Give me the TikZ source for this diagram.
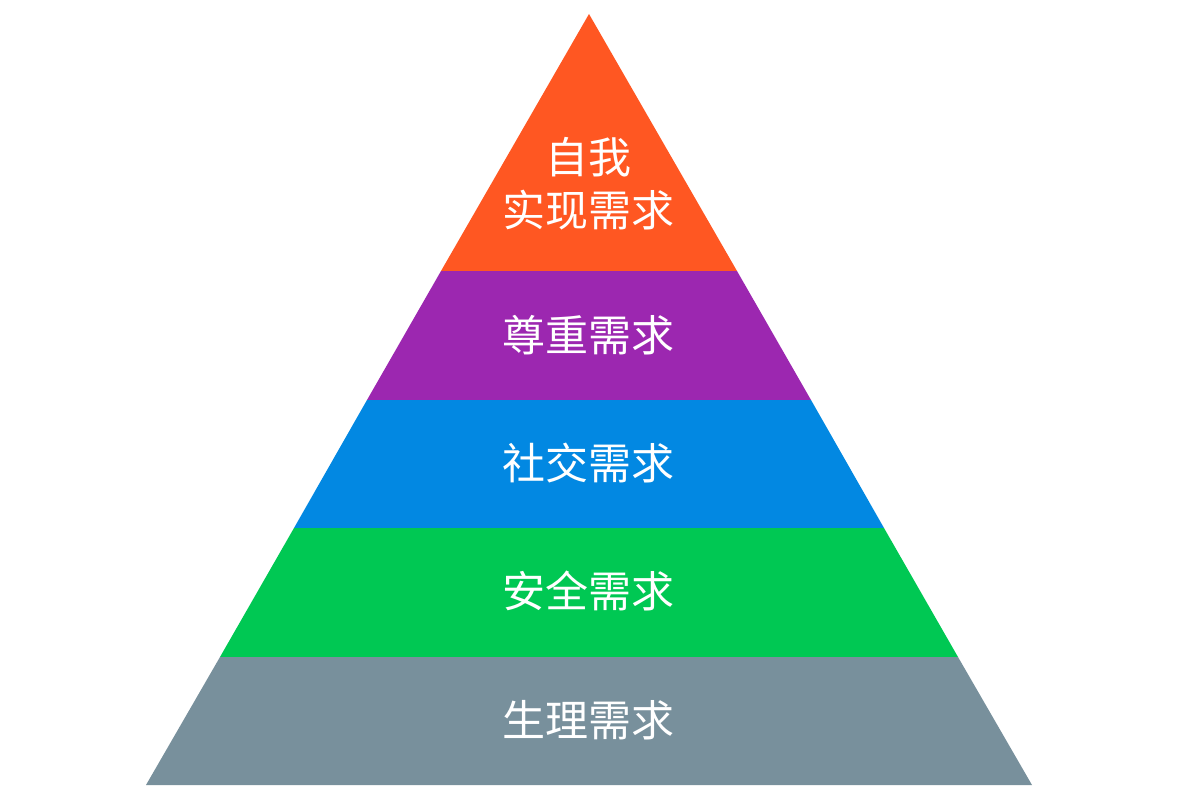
\documentclass[tikz,border=0pt]{standalone}
\usepackage{fontspec}
\newfontfamily\cjk{Noto Sans CJK SC}
\definecolor{cTop}{HTML}{FF5722}
\definecolor{cEst}{HTML}{9C27B0}
\definecolor{cSoc}{HTML}{0288E2}
\definecolor{cSaf}{HTML}{00C853}
\definecolor{cPhy}{HTML}{78909C}
\tikzset{
  lbl/.style={text=white, font=\cjk\fontsize{43}{53}\selectfont, align=center, inner sep=0pt},
  layer/.style={draw=none}
}
\begin{document}
\begin{tikzpicture}[x=1pt,y=-1pt]
\useasboundingbox (0,0) rectangle (1200,800);
\fill[white] (0,0) rectangle (1200,800);
% layers: apex (589,14), base y=785, half-width 443 at base
\coordinate (A) at (589,14);
\fill[cTop] (589,14) -- (737,271) -- (441,271) -- cycle;
\fill[cEst] (441,271) -- (737,271) -- (811,400) -- (367,400) -- cycle;
\fill[cSoc] (367,400) -- (811,400) -- (884,528) -- (294,528) -- cycle;
\fill[cSaf] (294,528) -- (884,528) -- (958,657) -- (220,657) -- cycle;
\fill[cPhy] (220,657) -- (958,657) -- (1032,785) -- (146,785) -- cycle;
\node[lbl] (t1) at (588,184) {自我\\实现需求};
\node[lbl] (t2) at (588,335) {尊重需求};
\node[lbl] (t3) at (588,463) {社交需求};
\node[lbl] (t4) at (588,591) {安全需求};
\node[lbl] (t5) at (588,720) {生理需求};
\end{tikzpicture}
\end{document}
